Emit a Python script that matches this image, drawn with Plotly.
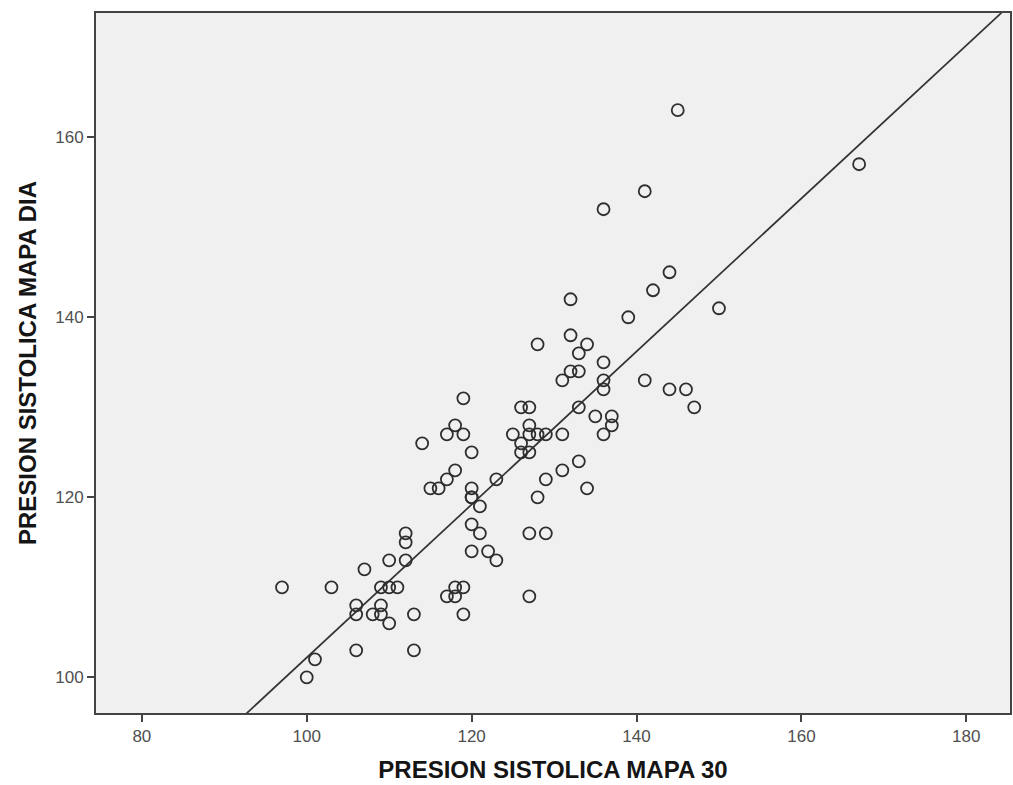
import plotly.graph_objects as go
import numpy as np

# PRESION SISTOLICA MAPA 30 (x) vs PRESION SISTOLICA MAPA DIA (y)
mapa30 = [145, 141, 136, 167, 150, 147, 144, 142, 139, 132, 132, 134, 133, 128, 136,
          132, 133, 131, 136, 136, 141, 144, 146, 119, 126, 127, 133, 135, 137, 137,
          136, 127, 125, 127, 128, 129, 131, 126, 126, 127, 118, 117, 119, 114, 120,
          118, 117, 115, 116, 120, 120, 120, 121, 123, 129, 131, 133, 134, 128, 120,
          121, 120, 122, 123, 127, 129, 127, 118, 119, 117, 118, 119, 113, 113, 112,
          112, 112, 110, 107, 97, 103, 109, 110, 111, 106, 106, 108, 109, 109, 110,
          106, 101, 100]
mapa_dia = [163, 154, 152, 157, 141, 130, 145, 143, 140, 142, 138, 137, 136, 137, 135,
            134, 134, 133, 133, 132, 133, 132, 132, 131, 130, 130, 130, 129, 129, 128,
            127, 128, 127, 127, 127, 127, 127, 126, 125, 125, 128, 127, 127, 126, 125,
            123, 122, 121, 121, 121, 120, 120, 119, 122, 122, 123, 124, 121, 120, 117,
            116, 114, 114, 113, 116, 116, 109, 110, 110, 109, 109, 107, 107, 103, 116,
            115, 113, 113, 112, 110, 110, 110, 110, 110, 108, 107, 107, 108, 107, 106,
            103, 102, 100]

fit_slope = 0.85
fit_intercept = 17.2

x_range = [74.44, 185.3]
y_range = [96.04, 173.8]
x_ticks = [80, 100, 120, 140, 160, 180]
y_ticks = [100, 120, 140, 160]

FONT = "Liberation Sans, Arial, sans-serif"

fig = go.Figure()

fit_x = np.array(x_range)
fit_y = fit_intercept + fit_slope * fit_x
fig.add_trace(go.Scatter(x=fit_x, y=fit_y, mode="lines",
                         line=dict(color="#333333", width=1.7),
                         hoverinfo="skip", showlegend=False))

fig.add_trace(go.Scatter(x=mapa30, y=mapa_dia, mode="markers",
                         marker=dict(symbol="circle-open", size=12,
                                     color="#2e2e2e", line=dict(width=1.8)),
                         showlegend=False))

axis_common = dict(showgrid=False, zeroline=False, showline=True, linecolor="#444444",
                   linewidth=1.8, mirror=True, ticks="outside", ticklen=7,
                   tickwidth=1.6, tickcolor="#444444",
                   tickfont=dict(family=FONT, size=17, color="#505050"))

fig.update_xaxes(range=x_range, tickvals=x_ticks,
                 title=dict(text="<b>PRESION SISTOLICA MAPA 30</b>", standoff=16,
                            font=dict(family=FONT, size=24, color="#151515")),
                 **axis_common)
fig.update_yaxes(range=y_range, tickvals=y_ticks,
                 title=dict(text="<b>PRESION SISTOLICA MAPA DIA</b>", standoff=12,
                            font=dict(family=FONT, size=24, color="#151515")),
                 **axis_common)

fig.update_layout(width=1013, height=785,
                  margin=dict(l=96, r=1, t=13, b=72),
                  plot_bgcolor="#f0f0f0", paper_bgcolor="white")

fig.write_html("out.html", config={"displayModeBar": False},
               post_script="document.body.style.margin='0';document.body.style.overflow='hidden';")
